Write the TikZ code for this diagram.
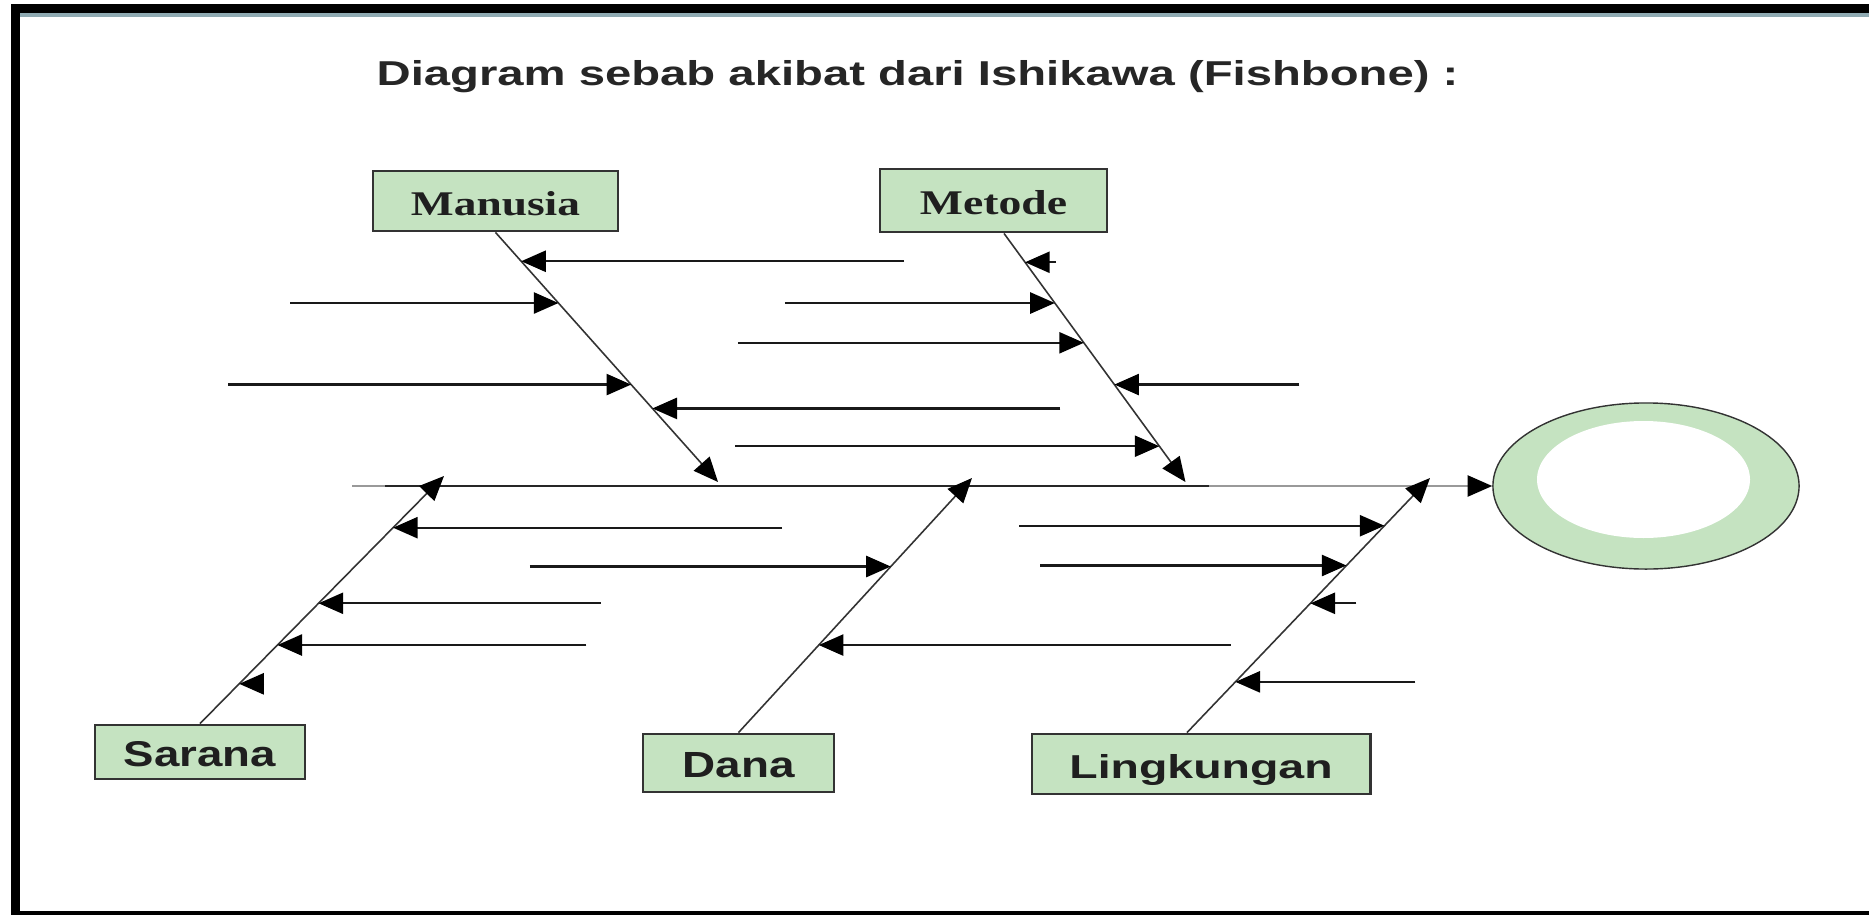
\documentclass[tikz,border=0pt]{standalone}
\usepackage{fontspec}
\usepackage{tikz}
\usetikzlibrary{arrows.meta,shapes.geometric,calc}
\newfontfamily\hurufsans{Liberation Sans}
\newfontfamily\hurufserif{Liberation Serif}
\definecolor{hijau}{HTML}{C5E3C1}
\definecolor{bingkai}{HTML}{8FAAB2}

\begin{document}
\begin{tikzpicture}[x=0.01cm,y=-0.01cm,
  kotak/.style={draw=black!80,line width=0.8pt,fill=hijau,inner sep=0pt,text height=0.28cm,text depth=0pt,text=black!88},
  mata/.style={-{Triangle[length=7pt,width=6pt,color=black]}},
  tulang/.style={draw=black!80,line width=0.45pt,mata},
  rusuk/.style={draw=black!90,line width=0.65pt,mata}]

  \useasboundingbox (0,0) rectangle (1869,915);
  \fill[white] (0,0) rectangle (1869,915);

  \fill[black] (11,4) rectangle (1869,13); %ATAS
  \fill[bingkai] (20,13) rectangle (1869,17); %ATAS-BIRU
  \fill[black] (11,4) rectangle (20,915); %KIRI
  \fill[black] (11,911) rectangle (1869,915); %BAWAH

  \node[anchor=base west,inner sep=0pt,text=black!85] (judul) at (376,85)
    {\resizebox{10.81cm}{0.25cm}{\hurufsans\bfseries Diagram sebab akibat dari Ishikawa (Fishbone) :}};

  \node[kotak,minimum width=2.45cm,minimum height=0.60cm] (manusia) at (495.5,201)
    {\resizebox{1.69cm}{0.24cm}{\hurufserif\bfseries Manusia}\hspace{0.17cm}};
  \node[kotak,minimum width=2.27cm,minimum height=0.63cm] (metode) at (993.5,200.5)
    {\resizebox{1.47cm}{0.24cm}{\hurufserif\bfseries Metode}\hspace{0.17cm}};
  \node[kotak,minimum width=2.10cm,minimum height=0.54cm] (sarana) at (200,752)
    {\resizebox{1.52cm}{0.25cm}{\hurufsans\bfseries Sarana}};
  \node[kotak,minimum width=1.91cm,minimum height=0.58cm] (dana) at (738.5,763)
    {\resizebox{1.12cm}{0.25cm}{\hurufsans\bfseries Dana}};
  \node[kotak,minimum width=3.38cm,minimum height=0.60cm] (lingkungan) at (1201,764)
    {\resizebox{2.63cm}{0.24cm}{\hurufsans\bfseries Lingkungan}};

  % kepala ikan
  \node[ellipse,draw=black!80,line width=0.4pt,fill=hijau,minimum width=3.06cm,minimum height=1.66cm] (akibat) at (1646,486) {};
  \fill[white] (1643.5,479.5) ellipse [x radius=106.5, y radius=58.5];

  % tulang utama
  \coordinate (ekor) at (352,486);
  \coordinate (utama-a) at (385,486);
  \coordinate (utama-b) at (1209,486);
  \draw[black!40,line width=0.6pt,mata] (ekor) -- (akibat.west);
  \draw[black!85,line width=0.6pt] (utama-a) -- (utama-b);

  % MANUSIA
  \coordinate (m-ujung) at (718,482);
  \draw[tulang] (manusia.south) -- (m-ujung);
  \coordinate (m1) at ($(manusia.south)!0.1155!(m-ujung)$);
  \coordinate (m2) at ($(manusia.south)!0.2829!(m-ujung)$);
  \coordinate (m3) at ($(manusia.south)!0.6096!(m-ujung)$);
  \coordinate (m4) at ($(manusia.south)!0.7052!(m-ujung)$);
  \draw[rusuk] (m1) ++(383,0) -- (m1); %KANAN
  \draw[rusuk] (m2) ++(-268,0) -- (m2); %KIRI
  \draw[rusuk] (m3) ++(-403,0) -- (m3); %KIRI
  \draw[rusuk] (m4) ++(408,0) -- (m4); %KANAN

  % METODE
  \coordinate (t-pangkal) at ([xshift=0.105cm]metode.south);
  \coordinate (t-ujung) at (1185.5,482);
  \draw[tulang] (t-pangkal) -- (t-ujung);
  \coordinate (t1) at ($(t-pangkal)!0.116!(t-ujung)$);
  \coordinate (t2) at ($(t-pangkal)!0.28!(t-ujung)$);
  \coordinate (t3) at ($(t-pangkal)!0.44!(t-ujung)$);
  \coordinate (t4) at ($(t-pangkal)!0.608!(t-ujung)$);
  \coordinate (t5) at ($(t-pangkal)!0.856!(t-ujung)$);
  \draw[rusuk] (t1) ++(31,0) -- (t1); %PENDEK
  \draw[rusuk] (t2) ++(-270,0) -- (t2); %KIRI
  \draw[rusuk] (t3) ++(-346,0) -- (t3); %KIRI
  \draw[rusuk] (t4) ++(185,0) -- (t4); %KANAN
  \draw[rusuk] (t5) ++(-424,0) -- (t5); %KIRI

  % SARANA
  \coordinate (s-ujung) at (444,476);
  \draw[tulang] (sarana.north) -- (s-ujung);
  \coordinate (s1) at ($(sarana.north)!0.7912!(s-ujung)$);
  \coordinate (s2) at ($(sarana.north)!0.4859!(s-ujung)$);
  \coordinate (s3) at ($(sarana.north)!0.3173!(s-ujung)$);
  \coordinate (s4) at ($(sarana.north)!0.1606!(s-ujung)$);
  \draw[rusuk] (s1) ++(389,0) -- (s1);
  \draw[rusuk] (s2) ++(282,0) -- (s2);
  \draw[rusuk] (s3) ++(309,0) -- (s3);
  \draw[rusuk] (s4) ++(25,0) -- (s4); %PENDEK

  % DANA
  \coordinate (d-ujung) at (972,478);
  \draw[tulang] (dana.north) -- (d-ujung);
  \coordinate (d1) at ($(dana.north)!0.6523!(d-ujung)$);
  \coordinate (d2) at ($(dana.north)!0.3438!(d-ujung)$);
  \draw[rusuk] (d1) ++(-361,0) -- (d1); %KIRI
  \draw[rusuk] (d2) ++(412,0) -- (d2); %KANAN

  % LINGKUNGAN
  \coordinate (l-pangkal) at ([xshift=-0.14cm]lingkungan.north);
  \coordinate (l-ujung) at (1430,478);
  \draw[tulang] (l-pangkal) -- (l-ujung);
  \coordinate (l1) at ($(l-pangkal)!0.8125!(l-ujung)$);
  \coordinate (l2) at ($(l-pangkal)!0.6563!(l-ujung)$);
  \coordinate (l3) at ($(l-pangkal)!0.5078!(l-ujung)$);
  \coordinate (l4) at ($(l-pangkal)!0.1992!(l-ujung)$);
  \draw[rusuk] (l1) ++(-365,0) -- (l1); %KIRI
  \draw[rusuk] (l2) ++(-306,0) -- (l2); %KIRI
  \draw[rusuk] (l3) ++(46,0) -- (l3); %PENDEK
  \draw[rusuk] (l4) ++(180,0) -- (l4); %KANAN

\end{tikzpicture}
\end{document}
